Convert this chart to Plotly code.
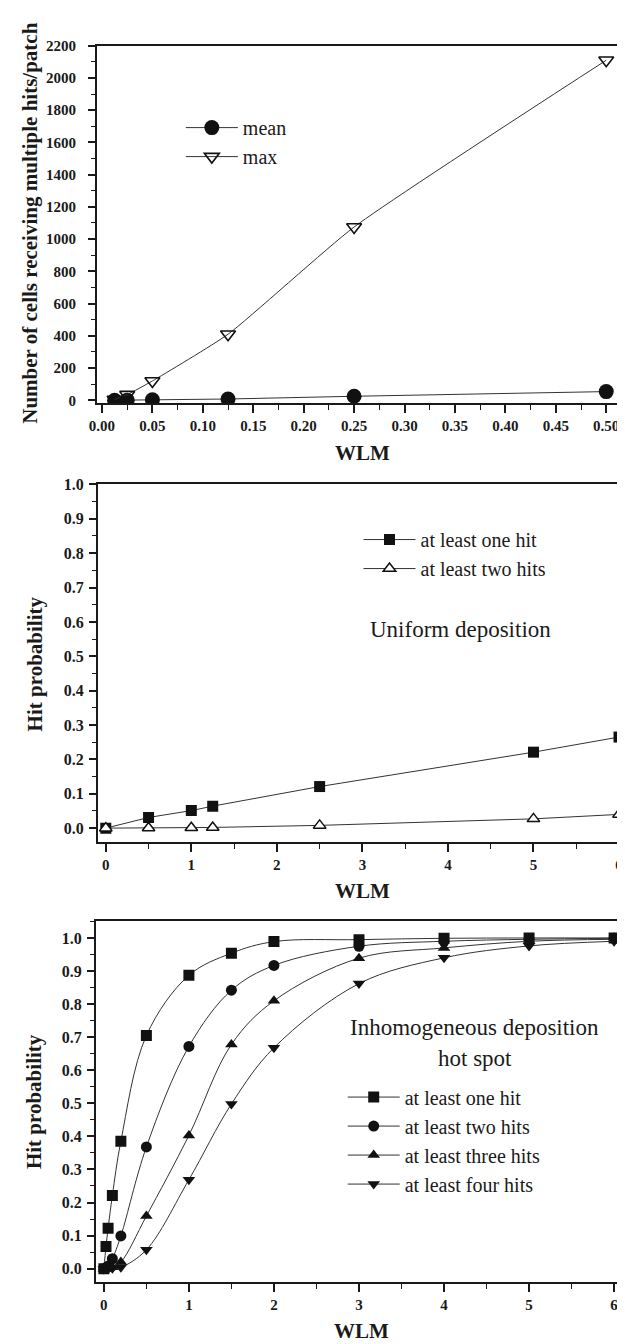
import plotly.graph_objects as go

# ---------------- data ----------------
# Panel 1: cells receiving multiple hits per patch
wlm_top = [0.0125, 0.025, 0.05, 0.125, 0.25, 0.5]
mean_cells = [0.3, 1, 3, 8, 25, 54]
max_cells = [5, 35, 120, 410, 1075, 2110]

# Panel 2: uniform deposition
wlm_uni = [0, 0.5, 1, 1.25, 2.5, 5, 6]
uni_one = [0.0, 0.031, 0.051, 0.064, 0.121, 0.221, 0.265]
uni_two = [0.0, 0.0005, 0.0013, 0.002, 0.008, 0.027, 0.040]

# Panel 3: inhomogeneous deposition, hot spot
wlm_hot = [0, 0.025, 0.05, 0.1, 0.2, 0.5, 1, 1.5, 2, 3, 4, 5, 6]
hot_one = [0.0, 0.067, 0.122, 0.221, 0.385, 0.705, 0.887, 0.954, 0.989, 0.995, 0.999, 1.0, 1.0]
hot_two = [0.0, 0.002, 0.008, 0.03, 0.099, 0.368, 0.672, 0.842, 0.917, 0.975, 0.99, 0.996, 0.999]
hot_three = [0.0, 0.0, 0.001, 0.004, 0.02, 0.159, 0.403, 0.678, 0.81, 0.939, 0.97, 0.99, 0.996]
hot_four = [0.0, 0.0, 0.0, 0.001, 0.004, 0.057, 0.269, 0.498, 0.668, 0.862, 0.94, 0.976, 0.99]

top_xticks = [0, 0.05, 0.1, 0.15, 0.2, 0.25, 0.3, 0.35, 0.4, 0.45, 0.5]

SERIF = "Liberation Serif"
INK = "#1a1a1a"
LINE = "#333333"

# page body margin offset (browser default 8px)
OFF = 8.0
W = 625.0 - OFF
H = 1344.0 - OFF


def px(xpage):
    return (xpage - OFF) / W


def py(ypage):
    return 1 - (ypage - OFF) / H


def ydom(top_px, bot_px):
    return [py(bot_px), py(top_px)]


fig = go.Figure()

# ---- top panel ----
fig.add_trace(go.Scatter(x=wlm_top, y=mean_cells, name="mean", mode="lines+markers",
                         line=dict(color=LINE, width=1),
                         marker=dict(symbol="circle", size=15, color="#111111"),
                         xaxis="x", yaxis="y", legend="legend"))
fig.add_trace(go.Scatter(x=wlm_top, y=max_cells, name="max", mode="lines+markers",
                         line=dict(color=LINE, width=1, shape="spline", smoothing=0.5),
                         marker=dict(symbol="triangle-down-open", size=13, color="#111111",
                                     line=dict(width=1.6, color="#111111")),
                         xaxis="x", yaxis="y", legend="legend"))

# ---- middle panel ----
fig.add_trace(go.Scatter(x=wlm_uni, y=uni_one, name="at least one hit", mode="lines+markers",
                         line=dict(color=LINE, width=1),
                         marker=dict(symbol="square", size=11, color="#111111"),
                         xaxis="x2", yaxis="y2", legend="legend2"))
fig.add_trace(go.Scatter(x=wlm_uni, y=uni_two, name="at least two hits", mode="lines+markers",
                         line=dict(color=LINE, width=1),
                         marker=dict(symbol="triangle-up", size=11, color="white",
                                     line=dict(width=1.5, color="#111111")),
                         xaxis="x2", yaxis="y2", legend="legend2"))

# ---- bottom panel ----
hot_series = [
    ("at least one hit", hot_one, "square"),
    ("at least two hits", hot_two, "circle"),
    ("at least three hits", hot_three, "triangle-up"),
    ("at least four hits", hot_four, "triangle-down"),
]
for name, ys, sym in hot_series:
    fig.add_trace(go.Scatter(x=wlm_hot, y=ys, name=name, mode="lines+markers",
                             line=dict(color=LINE, width=1, shape="spline", smoothing=1.0),
                             marker=dict(symbol=sym, size=11, color="#111111"),
                             xaxis="x3", yaxis="y3", legend="legend3"))

tickfont = dict(family=SERIF, size=15, color=INK, weight="bold")
ytickfont = dict(family=SERIF, size=16, color=INK, weight="bold")
titlefont = dict(family=SERIF, size=21, color=INK, weight="bold")
legfont = dict(family=SERIF, size=20, color=INK)

common_x = dict(showgrid=False, zeroline=False, showline=True, linecolor=INK, linewidth=2,
                mirror=True, ticks="outside", ticklen=8, tickwidth=1.5, tickcolor=INK,
                tickfont=tickfont)
common_y = dict(showgrid=False, zeroline=False, showline=True, linecolor=INK, linewidth=2,
                mirror=False, ticks="outside", ticklen=7, tickwidth=1.5, tickcolor=INK)


def title_ann(text, xpage, ypage, angle=0):
    return dict(text=text, x=px(xpage), y=py(ypage), xref="paper", yref="paper",
                xanchor="center", yanchor="middle", showarrow=False, textangle=angle,
                font=titlefont)


def text_ann(text, xpage, ypage, size):
    return dict(text=text, x=px(xpage), y=py(ypage), xref="paper", yref="paper",
                xanchor="center", yanchor="middle", showarrow=False,
                font=dict(family=SERIF, size=size, color=INK))


fig.update_layout(
    width=W, height=H,
    margin=dict(l=0, r=0, t=0, b=0),
    paper_bgcolor="white", plot_bgcolor="white",
    showlegend=True,
    xaxis=dict(common_x, domain=[px(90), 1], anchor="y", range=[-0.005, 0.5186],
               tickvals=top_xticks, tickformat=".2f",
               minor=dict(dtick=0.025, tick0=0, ticks="outside", ticklen=5, tickwidth=1.2, tickcolor=INK)),
    yaxis=dict(common_y, domain=ydom(38, 399), anchor="x", range=[-18, 2200],
               dtick=200, tick0=0, tickfont=tickfont, ticklabelstandoff=9,
               minor=dict(dtick=100, tick0=0, ticks="outside", ticklen=4, tickwidth=1.2, tickcolor=INK)),
    xaxis2=dict(common_x, domain=[px(91), 1], anchor="y2", range=[-0.092, 6.07],
                dtick=1, tick0=0,
                minor=dict(dtick=0.5, tick0=0, ticks="outside", ticklen=5, tickwidth=1.2, tickcolor=INK)),
    yaxis2=dict(common_y, domain=ydom(481, 842), anchor="x2", range=[-0.04, 1.0],
                dtick=0.1, tick0=0, tickformat=".1f", tickfont=ytickfont, ticklabelstandoff=2,
                minor=dict(dtick=0.05, tick0=0, ticks="outside", ticklen=4, tickwidth=1.2, tickcolor=INK)),
    xaxis3=dict(common_x, domain=[px(89), 1], anchor="y3", range=[-0.093, 6.128],
                dtick=1, tick0=0,
                minor=dict(dtick=0.5, tick0=0, ticks="outside", ticklen=5, tickwidth=1.2, tickcolor=INK)),
    yaxis3=dict(common_y, domain=ydom(922, 1286), anchor="x3", range=[-0.039, 1.051],
                dtick=0.1, tick0=0, tickformat=".1f", tickfont=ytickfont, ticklabelstandoff=2,
                minor=dict(dtick=0.05, tick0=0, ticks="outside", ticklen=4, tickwidth=1.2, tickcolor=INK)),
    legend=dict(x=px(175), y=py(101), xanchor="left", yanchor="top", itemwidth=52,
                bgcolor="rgba(0,0,0,0)", font=legfont),
    legend2=dict(x=px(355), y=py(517), xanchor="left", yanchor="top", itemwidth=52,
                 bgcolor="rgba(0,0,0,0)", font=legfont),
    legend3=dict(x=px(339), y=py(1080), xanchor="left", yanchor="top", itemwidth=52,
                 bgcolor="rgba(0,0,0,0)", font=legfont),
    annotations=[
        title_ann("Number of cells receiving multiple hits/patch", 22, 217, -90),
        title_ann("Hit probability", 27, 662, -90),
        title_ann("Hit probability", 27, 1104, -90),
        title_ann("WLM", 359, 449),
        title_ann("WLM", 359, 892),
        title_ann("WLM", 358, 1336),
        text_ann("Uniform deposition", 458, 628, 23),
        text_ann("Inhomogeneous deposition", 473, 1029, 23),
        text_ann("hot spot", 473, 1061, 23),
    ],
)

fig.write_html("out.html")
